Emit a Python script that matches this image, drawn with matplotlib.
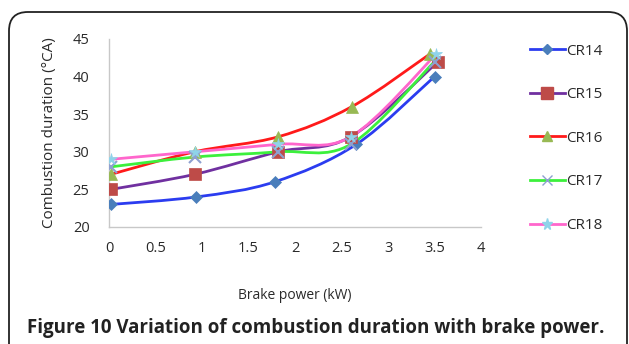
import matplotlib
matplotlib.use("Agg")
import matplotlib.pyplot as plt
from matplotlib.path import Path
from matplotlib.patches import PathPatch, FancyBboxPatch
from matplotlib.lines import Line2D

plt.rcParams['font.family'] = ['Open Sans', 'DejaVu Sans']

labels = ["CR14", "CR15", "CR16", "CR17", "CR18"]
x_vals = [
    [0.02, 0.94, 1.78, 2.66, 3.50],
    [0.02, 0.92, 1.82, 2.60, 3.54],
    [0.02, 0.92, 1.82, 2.61, 3.45],
    [0.02, 0.92, 1.82, 2.60, 3.50],
    [0.02, 0.92, 1.82, 2.60, 3.52],
]
y_vals = [
    [23, 24, 26, 31, 40],
    [25, 27, 30, 32, 42],
    [27, 30, 32, 36, 43],
    [28, 29.3, 30, 31, 42],
    [29, 30, 31, 32, 43],
]
x_ticks = [0, 0.5, 1, 1.5, 2, 2.5, 3, 3.5, 4]
y_ticks = [20, 25, 30, 35, 40, 45]

line_colors = ["#2b3cf0", "#7030a0", "#ff1a1a", "#3cf03c", "#ff66cc"]
marker_colors = ["#4a7ebb", "#be4b48", "#98b954", "#8ea0d0", "#8fd3ea"]
markers = ["D", "s", "^", "x", "*"]
msizes = [6, 9, 8, 8, 9]

fig = plt.figure(figsize=(6.29, 3.44), dpi=100)

# outer rounded border
border = FancyBboxPatch((9 / 629, -0.2), 618 / 629, 1 - 12 / 344 + 0.2,
                        boxstyle="round,pad=0,rounding_size=0.03",
                        transform=fig.transFigure, fill=False,
                        edgecolor="#222222", linewidth=1.3, mutation_aspect=629 / 344)
fig.patches.append(border)

ax = fig.add_axes([109 / 629, 1 - 227 / 344, (481 - 109) / 629, (227 - 39) / 344])
ax.set_xlim(0, 4)
ax.set_ylim(20, 45)


def smooth_path(xs, ys):
    pts = list(zip(xs, ys))
    n = len(pts)
    verts = [pts[0]]
    codes = [Path.MOVETO]
    for i in range(n - 1):
        p0 = pts[i - 1] if i > 0 else pts[i]
        p1 = pts[i]
        p2 = pts[i + 1]
        p3 = pts[i + 2] if i + 2 < n else pts[i + 1]
        c1 = (p1[0] + (p2[0] - p0[0]) / 6, p1[1] + (p2[1] - p0[1]) / 6)
        c2 = (p2[0] - (p3[0] - p1[0]) / 6, p2[1] - (p3[1] - p1[1]) / 6)
        verts += [c1, c2, p2]
        codes += [Path.CURVE4] * 3
    return Path(verts, codes)


handles = []
for xs, ys, lab, lc, mc, mk, ms in zip(x_vals, y_vals, labels, line_colors,
                                        marker_colors, markers, msizes):
    ax.add_patch(PathPatch(smooth_path(xs, ys), fill=False, edgecolor=lc,
                           linewidth=2.0, zorder=2))
    ax.plot(xs, ys, linestyle="none", marker=mk, color=mc, markersize=ms,
            markeredgewidth=1.5 if mk == "x" else 0.5, zorder=3)
    handles.append(Line2D([], [], color=lc, linewidth=2.0, marker=mk,
                          markerfacecolor=mc, markeredgecolor=mc,
                          markersize=ms * 0.9, label=lab))

for s in ["top", "right"]:
    ax.spines[s].set_visible(False)
for s in ["left", "bottom"]:
    ax.spines[s].set_color("#c8c8c8")
    ax.spines[s].set_linewidth(1.0)

ax.set_xticks(x_ticks)
ax.set_xticklabels([f"{t:g}" for t in x_ticks])
ax.set_yticks(y_ticks)
ax.tick_params(axis="both", length=0, labelsize=10.5, colors="#2a2a2a")
ax.tick_params(axis="x", pad=10)
ax.tick_params(axis="y", pad=14)

ax.set_xlabel("Brake power (kW)", fontsize=10, color="#2a2a2a", labelpad=23)
ax.set_ylabel("Combustion duration (°CA)", fontsize=11, color="#2a2a2a", labelpad=11)

leg = fig.legend(handles=handles, loc="upper left",
                 bbox_to_anchor=(522 / 629, 1 - 36 / 344), frameon=False,
                 fontsize=11, handlelength=2.3, handletextpad=0.1,
                 labelspacing=1.87, borderpad=0)
for t in leg.get_texts():
    t.set_color("#2a2a2a")

fig.text(27 / 629, 1 - 328 / 344,
         "Figure 10 Variation of combustion duration with brake power.",
         fontsize=13.5, fontweight="bold", color="#222222", va="center", ha="left")

fig.savefig("out.png", dpi=100)
